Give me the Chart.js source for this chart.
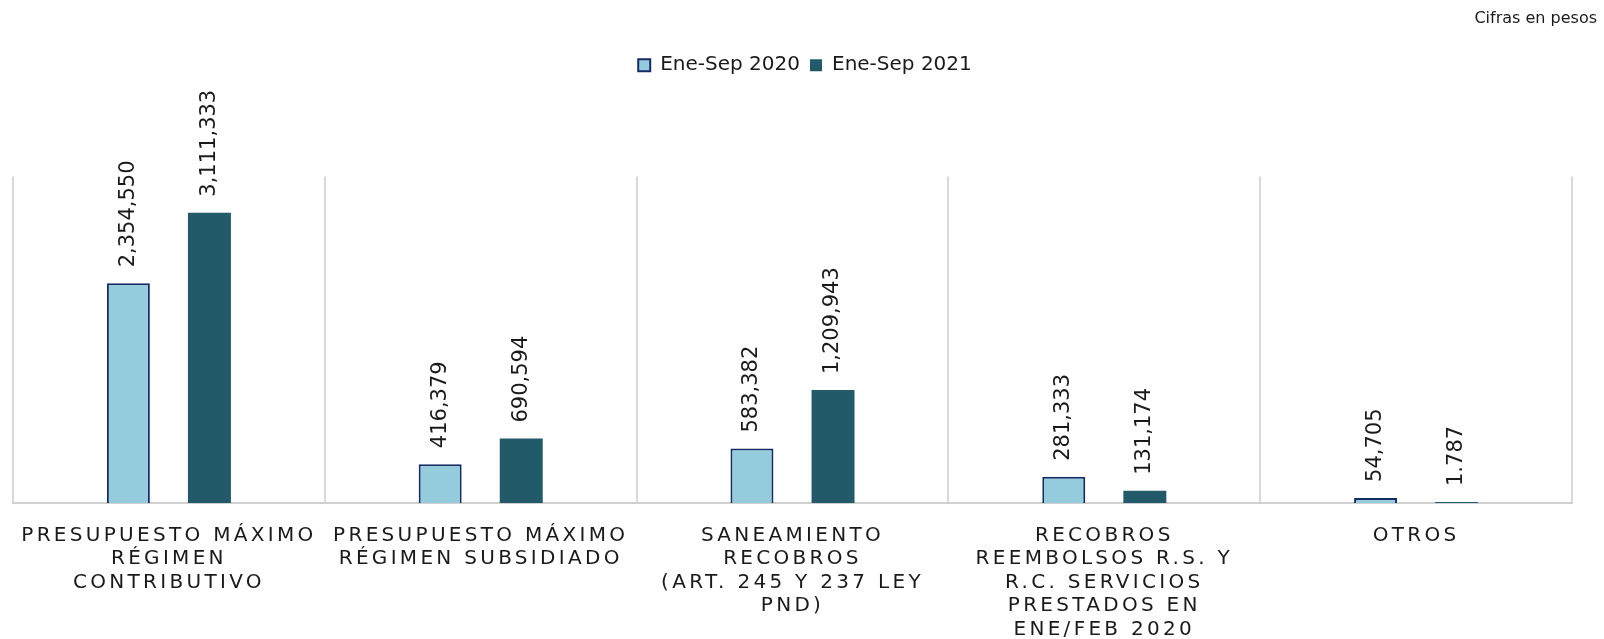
<!DOCTYPE html>
<html>
<head>
<meta charset="utf-8">
<script src="https://cdn.jsdelivr.net/npm/chart.js@4/dist/chart.umd.min.js"></script>
<style>
  html, body { margin: 0; padding: 0; background: #fff; }
  #wrap { width: 1604px; height: 639px; }
</style>
</head>
<body>
<div id="wrap"><canvas id="chart" width="1604" height="639"></canvas></div>
<script>
// chart data
const categories = [
    ['PRESUPUESTO MÁXIMO', 'RÉGIMEN', 'CONTRIBUTIVO'],
    ['PRESUPUESTO MÁXIMO', 'RÉGIMEN SUBSIDIADO'],
    ['SANEAMIENTO', 'RECOBROS', '(ART. 245 Y 237 LEY', 'PND)'],
    ['RECOBROS', 'REEMBOLSOS R.S. Y', 'R.C. SERVICIOS', 'PRESTADOS EN', 'ENE/FEB 2020'],
    ['OTROS']
];
const seriesNames = ['Ene-Sep 2020', 'Ene-Sep 2021'];
const values2020 = [2354550, 416379, 583382, 281333, 54705];
const values2021 = [3111333, 690594, 1209943, 131174, 1787];
const labels2020 = ['2,354,550', '416,379', '583,382', '281,333', '54,705'];
const labels2021 = ['3,111,333', '690,594', '1,209,943', '131,174', '1.787'];
const yMax = 3500000;

const FONT = "'DejaVu Sans', Verdana, sans-serif";
Chart.defaults.font.family = FONT;
Chart.defaults.color = '#1a1a1a';

// rotated value labels above each bar
const valueLabels = {
    id: 'valueLabels',
    afterDatasetsDraw(chart) {
        const ctx = chart.ctx;
        const texts = [labels2020, labels2021];
        chart.data.datasets.forEach((ds, di) => {
            const meta = chart.getDatasetMeta(di);
            meta.data.forEach((bar, i) => {
                ctx.save();
                ctx.translate(bar.x, bar.y - 16);
                ctx.rotate(-Math.PI / 2);
                ctx.font = '21px ' + FONT;
                ctx.fillStyle = '#1a1a1a';
                ctx.textAlign = 'left';
                ctx.textBaseline = 'middle';
                ctx.fillText(texts[di][i], 0, 0);
                ctx.restore();
            });
        });
    }
};

// spaced-out category labels on the x axis
const spacedTicks = {
    id: 'spacedTicks',
    beforeDraw(chart) {
        const xs = chart.scales.x;
        if (xs._spaced) return;
        const orig = xs.drawLabels.bind(xs);
        xs.drawLabels = function(area) {
            const c = this.ctx;
            c.save();
            c.letterSpacing = '3.3px';
            orig(area);
            c.restore();
        };
        xs._spaced = true;
    }
};

new Chart(document.getElementById('chart'), {
    type: 'bar',
    data: {
        labels: categories,
        datasets: [{
            label: seriesNames[0],
            data: values2020,
            backgroundColor: '#95ccdd',
            borderColor: '#142c63',
            borderWidth: 2,
            categoryPercentage: 0.52,
            barPercentage: 0.53
        }, {
            label: seriesNames[1],
            data: values2021,
            backgroundColor: '#225a69',
            borderWidth: 0,
            minBarLength: 1,
            categoryPercentage: 0.52,
            barPercentage: 0.53
        }]
    },
    options: {
        responsive: false,
        animation: false,
        layout: { padding: { left: 13, right: 7, top: 0, bottom: 0 } },
        plugins: {
            title: {
                display: true,
                text: 'Cifras en pesos',
                align: 'end',
                color: '#1a1a1a',
                font: { size: 16, weight: 'normal' },
                padding: { top: 9, bottom: 17 }
            },
            subtitle: {
                display: true,
                text: '',
                weight: 500,
                font: { size: 1 },
                padding: { top: 0, bottom: 90 }
            },
            legend: {
                position: 'top',
                labels: {
                    boxWidth: 12,
                    boxHeight: 12,
                    padding: 10,
                    color: '#1a1a1a',
                    font: { size: 20 }
                }
            },
            tooltip: { enabled: false }
        },
        scales: {
            x: {
                grid: { offset: true, color: '#d9d9d9', lineWidth: 2, drawTicks: false },
                border: { color: '#d0d0d0', width: 2 },
                ticks: {
                    autoSkip: false,
                    maxRotation: 0,
                    minRotation: 0,
                    padding: 21,
                    color: '#1a1a1a',
                    font: { size: 20, lineHeight: 1.175 }
                },
                afterFit(scale) { scale.height = 136; }
            },
            y: {
                position: 'right',
                min: 0,
                max: yMax,
                grid: { display: false },
                border: { display: false },
                ticks: { display: false },
                afterFit(scale) { scale.width = 25; }
            }
        }
    },
    plugins: [valueLabels, spacedTicks]
});
</script>
</body>
</html>
